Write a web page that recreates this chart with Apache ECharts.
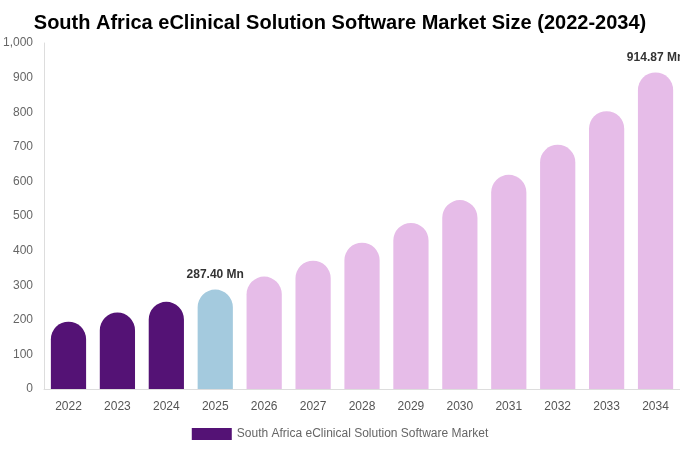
<!DOCTYPE html>
<html>
<head>
<meta charset="utf-8">
<script src="https://cdn.jsdelivr.net/npm/echarts@6/dist/echarts.min.js"></script>
<style>html,body{margin:0;padding:0;background:#fff}#c{width:680px;height:450px}</style>
</head>
<body>
<div id="c"></div>
<script>
const categories = ['2022','2023','2024','2025','2026','2027','2028','2029','2030','2031','2032','2033','2034'];
const marketValues = [194.5, 221, 252, 287.40, 325, 371, 423, 480, 546, 619, 706, 803, 914.87];
const labelledYears = ['2025','2034'];
const seriesName = 'South Africa eClinical Solution Software Market';

const histColor = '#541275', baseColor = '#a4cade', foreColor = '#e6bce8';
function colorFor(y){ const n = +y; return n < 2025 ? histColor : (n === 2025 ? baseColor : foreColor); }

const chart = echarts.init(document.getElementById('c'));
chart.setOption({
  animation: false,
  title: {
    text: 'South Africa eClinical Solution Software Market Size (2022-2034)',
    left: 'center', top: 8,
    textStyle: { fontFamily: 'Liberation Sans, Arial, sans-serif', fontSize: 20, fontWeight: 'bold', color: '#000' }
  },
  legend: {
    bottom: 5, left: 'center', icon: 'rect',
    itemWidth: 40, itemHeight: 12, itemGap: 6,
    textStyle: { fontFamily: 'Liberation Sans, Arial, sans-serif', fontSize: 12, color: '#666' },
    data: [{ name: seriesName, itemStyle: { color: histColor } }]
  },
  grid: { left: 44, right: 0, top: 43, bottom: 61, containLabel: false },
  xAxis: {
    type: 'category', data: categories,
    axisLine: { lineStyle: { color: '#ddd' } },
    axisTick: { show: false },
    axisLabel: { color: '#555', fontSize: 12, margin: 12, fontFamily: 'Liberation Sans, Arial, sans-serif' }
  },
  yAxis: {
    type: 'value', min: 0, max: 1000, interval: 100,
    axisLine: { show: true, lineStyle: { color: '#ddd' } },
    axisTick: { show: false },
    splitLine: { show: false },
    axisLabel: { color: '#666', fontSize: 12, margin: 11, fontFamily: 'Liberation Sans, Arial, sans-serif',
      formatter: v => v.toLocaleString('en-US') }
  },
  series: [{
    name: seriesName, type: 'bar', barWidth: '72%',
    itemStyle: { color: histColor },
    data: marketValues.map((v, i) => ({
      value: v,
      itemStyle: { color: colorFor(categories[i]), borderRadius: [18, 18, 0, 0] },
      label: {
        show: labelledYears.includes(categories[i]), position: 'top', distance: 9,
        formatter: p => p.value.toFixed(2) + ' Mn',
        fontWeight: 'bold', fontSize: 12, color: '#333', fontFamily: 'Liberation Sans, Arial, sans-serif'
      }
    }))
  }]
});
</script>
</body>
</html>
